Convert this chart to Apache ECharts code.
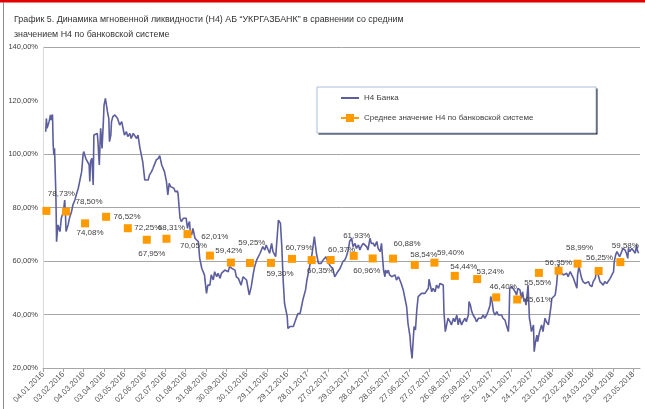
<!DOCTYPE html>
<html>
<head>
<meta charset="utf-8">
<script src="https://cdn.jsdelivr.net/npm/echarts@6/dist/echarts.min.js"></script>
<style>
  html, body {margin: 0; padding: 0; background: #fff;}
  #main {width: 645px; height: 409px;}
</style>
</head>
<body>
<div id="main"></div>
<script>
// x axis: days counted from 04.01.2016, one label every 30 days
const xTickLabels = [
    '04.01.2016', '03.02.2016', '04.03.2016', '03.04.2016', '03.05.2016', '02.06.2016',
    '02.07.2016', '01.08.2016', '31.08.2016', '30.09.2016', '30.10.2016', '29.11.2016',
    '29.12.2016', '28.01.2017', '27.02.2017', '29.03.2017', '28.04.2017', '28.05.2017',
    '27.06.2017', '27.07.2017', '26.08.2017', '25.09.2017', '25.10.2017', '24.11.2017',
    '24.12.2017', '23.01.2018', '22.02.2018', '24.03.2018', '23.04.2018', '23.05.2018'
];

// Н4 банка: [day, %]
const bankPoints = [
    [4,108.3],[5,113.3],[6,109.6],[9,112.1],[11,114.6],[12,112.7],[14,114.8],[15,103.4],[16,99.6],[17,102.1],
    [19,84.7],[20,67.2],[22,73.5],[25,71.0],[27,76.0],[30,78.4],[32,82.8],[33,78.4],[34,71.0],[37,73.5],
    [39,76.0],[42,78.4],[44,80.9],[47,82.8],[49,84.7],[52,87.2],[54,89.7],[57,93.4],[59,99.6],[60,100.9],
    [63,98.4],[65,99.0],[68,95.9],[69,89.7],[70,97.1],[72,98.4],[74,88.4],[75,107.1],[77,107.1],[80,107.7],
    [81,104.6],[83,95.9],[84,103.4],[85,109.6],[87,102.1],[89,112.1],[90,118.3],[92,120.8],[93,120.2],[95,115.8],
    [97,113.3],[98,104.6],[100,107.1],[101,112.1],[103,114.0],[106,114.6],[108,114.3],[110,113.3],[111,112.7],[113,110.8],
    [116,112.1],[118,109.6],[120,107.1],[123,108.3],[125,106.5],[128,107.7],[130,105.8],[133,107.7],[135,107.1],[138,105.8],
    [140,107.1],[143,102.1],[145,99.6],[147,97.1],[150,90.3],[152,89.7],[155,90.3],[157,92.2],[160,93.4],[162,94.6],
    [165,96.5],[167,97.8],[170,98.4],[172,99.4],[174,99.0],[175,95.9],[177,95.3],[179,93.4],[182,89.7],[184,84.7],
    [186,89.0],[188,87.8],[190,88.4],[193,87.2],[195,85.9],[198,86.2],[199,85.3],[201,84.7],[202,76.0],[204,74.7],
    [207,76.0],[209,75.3],[211,76.0],[213,72.2],[214,73.5],[216,74.7],[217,71.0],[219,69.7],[221,72.2],[224,68.5],
    [226,69.1],[229,67.2],[231,61.0],[234,57.3],[236,56.6],[238,54.8],[241,47.9],[243,51.0],[246,51.0],[248,54.8],
    [251,52.9],[253,56.0],[256,54.1],[258,55.4],[261,53.5],[263,55.4],[265,54.8],[268,56.6],[270,57.3],[273,56.0],
    [275,57.9],[278,57.3],[280,57.3],[283,56.6],[285,54.1],[288,53.5],[290,54.1],[292,51.0],[295,54.1],[300,52.9],
    [304,47.3],[307,50.4],[310,55.4],[312,57.9],[315,60.4],[320,62.9],[322,62.3],[324,65.4],[327,64.1],[329,66.0],
    [332,64.1],[334,62.9],[337,66.6],[339,63.5],[343,61.6],[347,75.3],[348,75.6],[350,74.1],[352,65.4],[354,52.9],
    [356,44.2],[360,39.2],[361,34.8],[364,35.5],[366,35.5],[369,35.5],[371,34.8],[374,39.2],[376,40.4],[379,40.4],
    [381,42.9],[383,45.4],[387,49.2],[389,52.9],[391,55.4],[393,57.9],[396,61.6],[398,65.4],[400,69.1],[401,69.7],
    [403,62.9],[406,59.1],[408,59.7],[410,59.1],[413,60.4],[417,61.6],[420,59.7],[424,57.9],[427,57.3],[430,54.1],
    [433,55.4],[435,55.4],[438,57.3],[440,58.5],[442,59.8],[445,60.4],[447,61.6],[450,64.1],[452,67.3],[455,68.5],
    [457,65.4],[460,66.6],[462,64.7],[465,66.0],[467,64.1],[469,65.4],[472,66.6],[474,67.3],[477,65.4],[479,64.1],
    [482,68.5],[484,66.6],[487,66.6],[489,65.4],[492,67.3],[494,64.7],[497,63.5],[499,66.6],[500,62.9],[502,56.6],
    [504,54.1],[505,56.6],[507,55.4],[509,56.6],[511,54.8],[514,54.1],[516,53.5],[519,54.8],[521,52.9],[524,54.1],
    [526,52.9],[528,51.6],[531,49.2],[533,46.7],[536,42.9],[538,36.7],[541,31.7],[542,28.0],[544,23.6],[546,31.7],
    [547,35.5],[549,34.2],[551,41.7],[553,46.7],[555,47.3],[558,47.9],[560,47.3],[563,47.9],[565,48.5],[568,49.8],
    [569,53.2],[573,48.5],[575,49.8],[578,48.5],[580,51.0],[583,49.8],[585,51.6],[587,52.3],[590,51.0],[591,41.1],
    [593,33.6],[595,36.1],[597,38.6],[600,37.3],[602,36.1],[605,38.6],[607,37.3],[610,39.8],[612,36.1],[614,38.6],
    [617,36.1],[619,37.3],[622,38.6],[624,37.3],[627,39.8],[628,44.8],[630,43.5],[632,41.1],[634,39.8],[637,38.6],
    [639,37.3],[642,38.6],[644,37.9],[646,38.6],[649,39.8],[651,38.6],[654,39.8],[656,41.1],[659,43.5],[660,46.7],
    [662,44.8],[664,41.1],[666,39.8],[669,41.1],[671,39.8],[673,40.4],[676,39.8],[678,38.6],[681,37.9],[683,36.1],
    [686,33.6],[687,38.6],[688,49.8],[691,50.4],[693,49.8],[696,48.5],[698,47.3],[700,49.8],[703,49.2],[705,46.0],
    [707,48.5],[709,44.8],[710,46.0],[712,43.5],[714,48.5],[715,51.0],[717,38.6],[718,37.3],[720,33.6],[723,36.1],
    [724,26.1],[726,29.8],[728,32.3],[729,29.8],[730,31.1],[732,33.6],[735,36.1],[737,33.6],[740,38.6],[742,37.3],
    [745,36.1],[747,39.8],[749,43.5],[750,46.0],[752,46.0],[755,47.3],[757,51.0],[759,57.3],[760,58.5],[762,56.0],
    [764,55.4],[767,54.8],[769,54.1],[772,55.4],[774,54.1],[777,56.0],[779,56.6],[782,53.5],[784,53.5],[787,49.8],
    [788,54.8],[790,57.9],[792,57.9],[794,53.5],[796,52.3],[799,51.6],[801,51.0],[804,52.3],[806,51.0],[809,50.4],
    [811,52.3],[814,53.5],[816,56.0],[817,57.3],[819,54.1],[821,52.3],[823,51.6],[826,51.0],[828,52.3],[831,51.6],
    [833,51.0],[836,53.5],[838,54.1],[841,56.0],[842,59.7],[844,62.2],[846,63.5],[848,62.9],[850,61.6],[853,63.5],
    [855,64.7],[858,64.1],[860,62.9],[862,61.0],[863,64.7],[865,63.5],[868,64.7],[870,64.1],[873,62.9],[875,66.0],
    [876,64.1],[878,62.9]
];

// среднее значение Н4 по банковской системе (по месяцам)
const avgDays = [5, 34, 62, 93, 125, 153, 182, 213, 246, 277, 305, 336, 367, 396, 424,
    458, 486, 516, 548, 577, 607, 640, 668, 699, 731, 760, 788, 819, 851];
const avgValues = [78.73, 78.50, 74.08, 76.52, 72.25, 67.95, 68.31, 70.05, 62.01, 59.42, 59.25, 59.30,
    60.79, 60.35, 60.37, 61.93, 60.96, 60.88, 58.54, 59.40, 54.44, 53.24, 46.40, 45.61, 55.55, 56.35,
    58.99, 56.25, 59.58];

// where each data label sits relative to its square
const avgLabelOffsets = [[15,-17],[23,-10],[5,9],[21,0],[20,0],[5,14],[5,-11],[6,12],[5,-19],[-2,-12],
    [2,-20],[9,11],[7,-11],[9,11],[11,-10],[3,-20],[-6,12],[14,-15],[9,-10],[16,-10],
    [9,-9],[13,-7],[7,-11],[21,0],[-1,10],[0,-8],[2,-16],[1,-13],[5,-16]];

const seriesNames = ['Н4 Банка', 'Среднее значение Н4 по банковской системе'];
const titleText = 'График 5. Динамика мгновенной ликвидности (Н4) АБ “УКРГАЗБАНК” в сравнении со средним\nзначением Н4 по банковской системе';

const font = 'Liberation Sans';
const bankColor = '#5C5E9E';
const avgColor = '#FF9A00';
const grid = '#A6A6A6';
const pct = v => v.toFixed(2).replace('.', ',') + '%';

const avgData = avgDays.map((d, i) => ({
    value: [d, avgValues[i]],
    label: {offset: avgLabelOffsets[i]}
}));

const chart = echarts.init(document.getElementById('main'));
chart.setOption({
    animation: false,
    textStyle: {fontFamily: font},
    title: {
        text: titleText, left: 9, top: 7,
        textStyle: {fontFamily: font, fontSize: 8.9, fontWeight: 'normal', color: '#333', lineHeight: 15}
    },
    grid: {left: 43, right: 5, top: 47, bottom: 41},
    graphic: [
        {type: 'rect', shape: {x: 0, y: 0, width: 645, height: 2.5}, style: {fill: '#E00000'}, silent: true},
        {type: 'line', shape: {x1: 3.5, y1: 2, x2: 3.5, y2: 409}, style: {stroke: '#8C8C8C', lineWidth: 1}, silent: true},
        // legend frame: dark drop shadow, then white box with light border
        {type: 'rect', z: 3, shape: {x: 318.5, y: 88.5, width: 279, height: 46}, style: {fill: '#222'}, silent: true},
        {type: 'rect', z: 3, shape: {x: 317, y: 87, width: 279, height: 46},
            style: {fill: '#fff', stroke: '#A9BDE0', lineWidth: 1}, silent: true}
    ],
    legend: {
        orient: 'vertical', left: 340, top: 94, padding: 0,
        itemWidth: 18, itemHeight: 10, itemGap: 12,
        textStyle: {fontFamily: font, fontSize: 8, color: '#404040'},
        data: [
            {name: seriesNames[0], itemStyle: {opacity: 0}},
            {name: seriesNames[1], lineStyle: {opacity: 1, width: 2, color: avgColor}}
        ]
    },
    xAxis: {
        type: 'value', min: 0, max: 880, interval: 30,
        axisLine: {show: true, lineStyle: {color: grid}},
        axisTick: {show: true, length: 4, lineStyle: {color: grid}},
        splitLine: {show: false},
        axisLabel: {
            rotate: 45, fontSize: 8, color: '#595959', margin: 5,
            formatter: v => xTickLabels[Math.round(v / 30)] || ''
        }
    },
    yAxis: {
        type: 'value', min: 20, max: 140, interval: 20,
        axisLine: {show: true, lineStyle: {color: '#D9D9D9'}},
        axisTick: {show: false},
        // 40..140; the 120% line is not drawn in the original
        splitLine: {
            showMinLine: false, showMaxLine: true,
            lineStyle: {color: [grid, grid, grid, grid, 'rgba(0,0,0,0)', grid]}
        },
        axisLabel: {fontSize: 7.5, color: '#404040', margin: 5, formatter: pct}
    },
    series: [
        {
            name: seriesNames[0], type: 'line', data: bankPoints, symbol: 'none', z: 2,
            lineStyle: {color: bankColor, width: 1.6}, itemStyle: {color: bankColor}
        },
        {
            name: seriesNames[1], type: 'line', data: avgData, symbol: 'rect', symbolSize: 8, z: 3,
            lineStyle: {opacity: 0}, itemStyle: {color: avgColor},
            label: {
                show: true, position: 'inside', fontFamily: font, fontSize: 8, color: '#404040',
                formatter: p => pct(p.value[1])
            }
        }
    ]
});
</script>
</body>
</html>
